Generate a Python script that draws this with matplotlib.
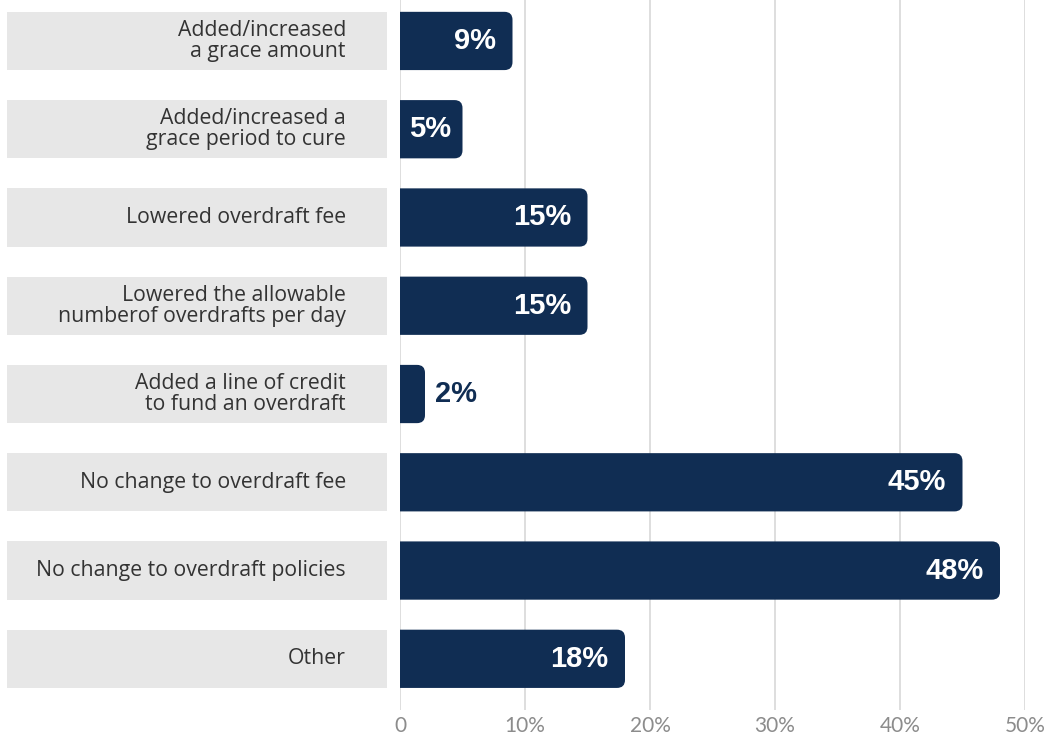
import matplotlib
matplotlib.use("Agg")
import matplotlib.pyplot as plt
from matplotlib.patches import FancyBboxPatch
from matplotlib.ticker import FuncFormatter

categories = [
    "Added/increased\na grace amount",
    "Added/increased a\ngrace period to cure",
    "Lowered overdraft fee",
    "Lowered the allowable\nnumberof overdrafts per day",
    "Added a line of credit\nto fund an overdraft",
    "No change to overdraft fee",
    "No change to overdraft policies",
    "Other",
]
values = [9, 5, 15, 15, 2, 45, 48, 18]
ticks = [0, 10, 20, 30, 40, 50]

NAVY = "#102d53"
BOX = "#e7e7e7"
GRID = "#d4d4d4"

fig = plt.figure(figsize=(10.52, 7.34), dpi=100)
bottom, top = 1 - 710 / 734, 1.0
ax = fig.add_axes([400 / 1052, bottom, 625 / 1052, top - bottom])
lab = fig.add_axes([7 / 1052, bottom, 380 / 1052, top - bottom], sharey=ax)

rows = list(range(len(values)))
h = 0.66
ax.set_xlim(0, 50)
ax.set_ylim(7.58, -0.464)

# rounded box starts left of zero; the axes clip keeps the left end square
r = 0.64
for i, v in zip(rows, values):
    ax.add_patch(FancyBboxPatch((-2 * r, i - h / 2), v + 2 * r, h,
                                boxstyle=f"round,pad=0,rounding_size={r}",
                                mutation_aspect=0.141, fc=NAVY, ec="none", zorder=3))
    txt = f"{v}%"
    kw = dict(va="center", fontsize=21, fontweight="bold",
              family="Liberation Sans", zorder=4)
    if v >= 8:
        ax.text(v - 1.3, i, txt, ha="right", color="white", **kw)
    elif v >= 4:
        ax.text(v / 2 - 0.1, i, txt, ha="center", color="white", **kw)
    else:
        ax.text(v + 0.8, i, txt, ha="left", color=NAVY, **kw)

ax.set_xticks(ticks)
ax.xaxis.set_major_formatter(FuncFormatter(lambda x, p: "0" if x == 0 else f"{x:.0f}%"))
ax.grid(axis="x", color=GRID, linewidth=1.1, zorder=0)
ax.set_axisbelow(True)
ax.tick_params(axis="x", length=0, pad=4, labelsize=15, labelcolor="#8c8c8c")
ax.tick_params(axis="y", left=False, labelleft=False)
for lbl in ax.get_xticklabels():
    lbl.set_family("Lato")
for s in ax.spines.values():
    s.set_visible(False)

# grey label boxes on the left
lab.barh(rows, [1] * len(rows), height=h, left=0, color=BOX)
lab.set_xlim(0, 1)
for i, c in zip(rows, categories):
    lab.text(339 / 380, i, c, ha="right", va="center", fontsize=15.3,
             family="Open Sans", color="#333333", linespacing=1.02)
lab.axis("off")

fig.savefig("out.png", dpi=100)
